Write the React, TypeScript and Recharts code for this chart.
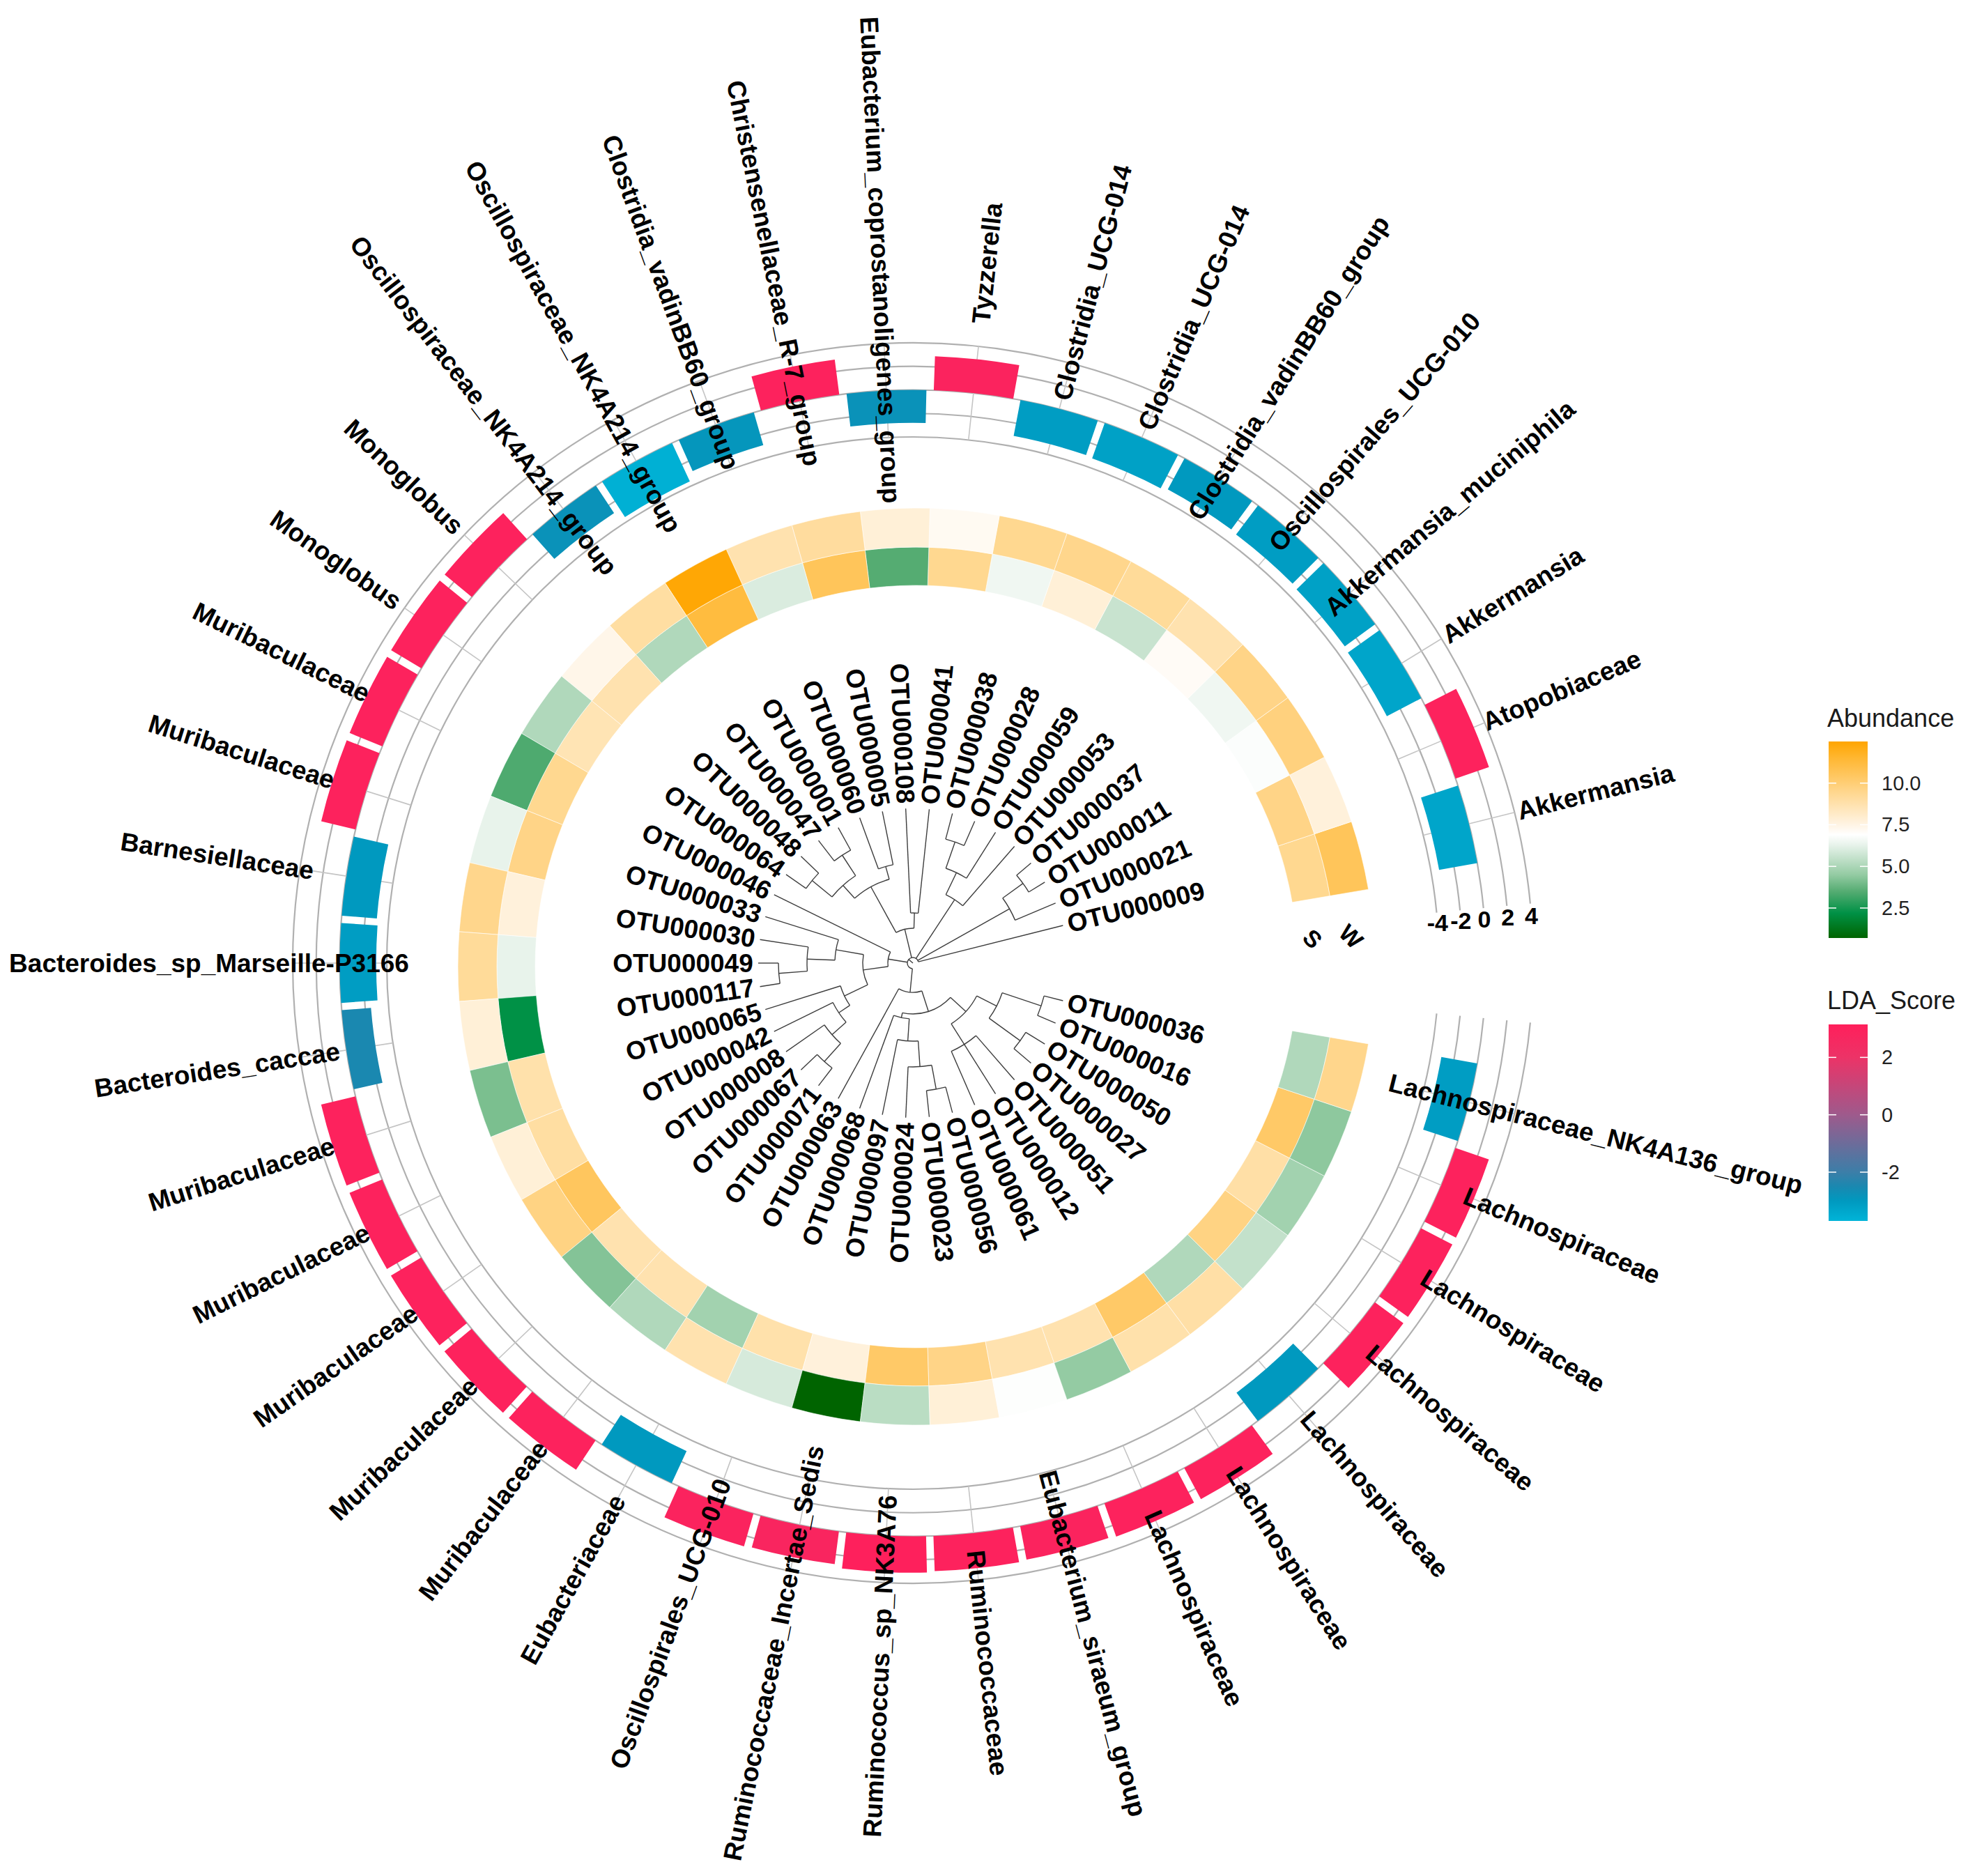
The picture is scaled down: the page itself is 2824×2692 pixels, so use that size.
import React from "react";
import {
  PieChart,
  Pie,
  Cell,
  RadialBarChart,
  RadialBar,
  PolarAngleAxis,
  PolarRadiusAxis,
  Customized,
} from "recharts";

const WIDTH = 2824;
const HEIGHT = 2692;
const CX = 1310;
const CY = 1382;
const START_ANGLE = 9.7;
const END_ANGLE = 350.3;
const FONT = "'Liberation Sans', Arial, sans-serif";

const otuIds = [
  "OTU000009", "OTU000021", "OTU000011", "OTU000037", "OTU000053", "OTU000059",
  "OTU000028", "OTU000038", "OTU000041", "OTU000108", "OTU000005", "OTU000060",
  "OTU000001", "OTU000047", "OTU000048", "OTU000064", "OTU000046", "OTU000033",
  "OTU000030", "OTU000049", "OTU000117", "OTU000065", "OTU000042", "OTU000008",
  "OTU000067", "OTU000071", "OTU000063", "OTU000068", "OTU000097", "OTU000024",
  "OTU000023", "OTU000056", "OTU000061", "OTU000012", "OTU000051", "OTU000027",
  "OTU000050", "OTU000016", "OTU000036",
]

const speciesNames = [
  "Akkermansia", "Atopobiaceae", "Akkermansia", "Akkermansia_muciniphila",
  "Oscillospirales_UCG-010", "Clostridia_vadinBB60_group", "Clostridia_UCG-014",
  "Clostridia_UCG-014", "Tyzzerella", "Eubacterium_coprostanoligenes_group",
  "Christensenellaceae_R-7_group", "Clostridia_vadinBB60_group",
  "Oscillospiraceae_NK4A214_group", "Oscillospiraceae_NK4A214_group", "Monoglobus",
  "Monoglobus", "Muribaculaceae", "Muribaculaceae", "Barnesiellaceae",
  "Bacteroides_sp_Marseille-P3166", "Bacteroides_caccae", "Muribaculaceae",
  "Muribaculaceae", "Muribaculaceae", "Muribaculaceae", "Muribaculaceae",
  "Eubacteriaceae", "Oscillospirales_UCG-010", "Ruminococcaceae_Incertae_Sedis",
  "Ruminococcus_sp_NK3A76", "Ruminococcaceae", "Eubacterium_siraeum_group",
  "Lachnospiraceae", "Lachnospiraceae", "Lachnospiraceae", "Lachnospiraceae",
  "Lachnospiraceae", "Lachnospiraceae", "Lachnospiraceae_NK4A136_group",
]

// abundance, inner ring (S) and outer ring (W)
const abundanceS = [
  9.4, 9.6, 6.8, 6.5, 7.1, 5.6, 7.8, 6.5, 9.4, 3.5, 10.6, 6.0, 11.2, 5.1, 8.7, 8.6,
  9.4, 9.6, 7.7, 6.3, 2.2, 8.8, 9.0, 10.5, 8.7, 8.7, 4.8, 8.8, 7.7, 10.3, 9.6, 8.7,
  8.7, 10.3, 5.1, 9.7, 8.9, 10.3, 5.1,
]
const abundanceW = [
  10.6, 7.7, 9.8, 9.6, 8.7, 9.2, 9.5, 9.4, 7.2, 7.8, 9.1, 8.7, 12.4, 9.0, 7.4, 5.1,
  3.4, 6.3, 9.5, 9.2, 7.8, 4.1, 7.8, 9.7, 4.25, 5.1, 8.7, 5.9, 0.7, 5.3, 7.8, 6.85,
  4.5, 8.8, 8.9, 5.5, 4.8, 4.4, 9.5,
]

const ldaScores = [
  -3.3, 3.0, -3.3, -3.2, -3.1, -3.0, -3.2, -3.1, 2.9, -2.8, 3.0, -2.9, -3.6, -2.8,
  3.0, 3.0, 3.0, 3.0, -3.0, -3.1, -2.5, 3.0, 3.0, 3.0, 3.0, 3.0, -3.0, 2.9, 2.8,
  3.1, 3.0, 2.9, 3.0, 3.0, -3.0, 3.0, 3.0, 3.0, -3.1,
]

const ldaTicks = [-4, -2, 0, 2, 4]
const abundanceLegendTicks = [10, 7.5, 5, 2.5]
const ldaLegendTicks = [2, 0, -2]

// colour ramps (value, colour), high to low
const abundanceStops: [number, string][] = [
  [12.5, "#FFA500"], [11.5, "#FFB732"], [10.5, "#FFC65E"], [9.5, "#FFD68C"],
  [8.5, "#FFE5B8"], [7.5, "#FFF4E4"], [6.9, "#FFFFFF"], [6.3, "#E8F3EB"],
  [5.5, "#C3E1CB"], [4.5, "#94CBA3"], [3.5, "#55AC72"], [2.2, "#009146"],
  [0.7, "#006400"],
]
const ldaStops: [number, string][] = [
  [3.15, "#FF1F5B"], [2.0, "#EC3367"], [0, "#9E5A8C"], [-2, "#3C7EA8"],
  [-2.5, "#1A88B0"], [-3.0, "#0099BF"], [-3.7, "#00B4D8"],
]

type TreeNode = number | { h: number; c: TreeNode[] }

// dendrogram: h is the node depth from the root (px), numbers are tip indexes
const treeRoot: TreeNode = {
  h: 8,
  c: [
    0,
    { h: 159, c: [1, { h: 195, c: [2, 3] }] },
    { h: 109, c: [4, { h: 144, c: [5, { h: 184, c: [6, 7] }] }] },
    {
      h: 50,
      c: [
        { h: 72, c: [8, 9] },
        {
          h: 125,
          c: [
            { h: 144, c: [10, 11] },
            { h: 150, c: [{ h: 185, c: [12, 13] }, { h: 187, c: [14, 15] }] },
          ],
        },
      ],
    },
    {
      h: 36,
      c: [
        16,
        {
          h: 72,
          c: [
            { h: 112, c: [17, { h: 152, c: [18, { h: 193, c: [19, 20] }] }] },
            { h: 109, c: [21, { h: 128, c: [22, { h: 155, c: [23, { h: 190, c: [24, 25] }] }] }] },
          ],
        },
      ],
    },
    {
      h: 42,
      c: [
        26,
        {
          h: 73,
          c: [
            { h: 80, c: [27, { h: 112, c: [28, { h: 149, c: [29, { h: 184, c: [30, 31] }] }] }] },
            {
              h: 103,
              c: [
                { h: 138, c: [32, 33, 34] },
                { h: 135, c: [{ h: 190, c: [35, 36] }, { h: 194, c: [37, 38] }] },
              ],
            },
          ],
        },
      ],
    },
  ],
}

const S_RING = [547, 602]
const W_RING = [602, 658]
const BAR_RING = [755, 890]
const TIP_R = 222
const OTU_LABEL_R = 330
const SPECIES_LABEL_R = 1010

const STEP = (END_ANGLE - START_ANGLE) / otuIds.length
const tipAngle = (i: number) => START_ANGLE + STEP * (i + 0.5)

function polar(r: number, deg: number): [number, number] {
  const t = (deg * Math.PI) / 180
  return [CX + r * Math.cos(t), CY - r * Math.sin(t)]
}

function arcPath(r: number, a0: number, a1: number) {
  const [x0, y0] = polar(r, a0)
  const [x1, y1] = polar(r, a1)
  const large = a1 - a0 > 180 ? 1 : 0
  return `M${x0},${y0} A${r},${r} 0 ${large} 0 ${x1},${y1}`
}

const barRadius = (v: number) =>
  BAR_RING[0] + ((v - ldaTicks[0]) / (ldaTicks[ldaTicks.length - 1] - ldaTicks[0])) * (BAR_RING[1] - BAR_RING[0])

function hexToRgb(h: string) {
  const n = parseInt(h.slice(1), 16)
  return [(n >> 16) & 255, (n >> 8) & 255, n & 255]
}

function rampColor(stops: [number, string][], v: number) {
  if (v >= stops[0][0]) return stops[0][1]
  for (let k = 0; k < stops.length - 1; k++) {
    const [v0, c0] = stops[k]
    const [v1, c1] = stops[k + 1]
    if (v <= v0 && v >= v1) {
      const t = (v0 - v) / (v0 - v1)
      const a = hexToRgb(c0)
      const b = hexToRgb(c1)
      const m = a.map((x, j) => Math.round(x + (b[j] - x) * t))
      return `rgb(${m[0]},${m[1]},${m[2]})`
    }
  }
  return stops[stops.length - 1][1]
}

const heatData = otuIds.map((otu, i) => ({ otu, one: 1, s: abundanceS[i], w: abundanceW[i] }))
// bars run from 0 to the score, so negative scores are given as [score, 0]
const ldaData = otuIds.map((otu, i) => ({
  otu,
  lda: ldaScores[i],
  span: [Math.min(0, ldaScores[i]), Math.max(0, ldaScores[i])],
}))

// the band scale of a polar angle axis starts one band early, so shift its range by one step
const BAR_START = START_ANGLE + STEP
const BAR_END = END_ANGLE + STEP

function radialText(text: string, r: number, a: number, key: string, size = 37) {
  const [x, y] = polar(r, a)
  const flip = a > 90 && a < 270
  const rot = flip ? 180 - a : -a
  return (
    <text
      key={key}
      x={x}
      y={y}
      transform={`rotate(${rot} ${x} ${y})`}
      textAnchor="middle"
      dominantBaseline="central"
      fontSize={size}
      fontWeight={700}
      fontFamily={FONT}
      fill="#000"
    >
      {text}
    </text>
  )
}

const GridLayer = () => (
  <g>
    {ldaTicks.map((v) => (
      <path key={`c${v}`} d={arcPath(barRadius(v), 5.5, 354.5)} fill="none" stroke="#b0b0b0" strokeWidth={2.2} />
    ))}
    {otuIds.map((id, i) => {
      const [x0, y0] = polar(BAR_RING[0], tipAngle(i))
      const [x1, y1] = polar(BAR_RING[1], tipAngle(i))
      return <line key={id} x1={x0} y1={y0} x2={x1} y2={y1} stroke="#c4c4c4" strokeWidth={1.6} />
    })}
  </g>
)

function buildTree(node: TreeNode, parentH: number, out: React.ReactNode[]): number {
  if (typeof node === "number") {
    const a = tipAngle(node)
    const [x0, y0] = polar(parentH, a)
    const [x1, y1] = polar(TIP_R, a)
    out.push(<line key={`t${node}`} x1={x0} y1={y0} x2={x1} y2={y1} stroke="#3d3d3d" strokeWidth={1.4} />)
    return a
  }
  const angles = node.c.map((ch) => buildTree(ch, node.h, out))
  const a0 = Math.min(...angles)
  const a1 = Math.max(...angles)
  out.push(<path key={`a${out.length}`} d={arcPath(node.h, a0, a1)} fill="none" stroke="#3d3d3d" strokeWidth={1.4} />)
  const a = (a0 + a1) / 2
  if (parentH < node.h) {
    const [x0, y0] = polar(parentH, a)
    const [x1, y1] = polar(node.h, a)
    out.push(<line key={`b${out.length}`} x1={x0} y1={y0} x2={x1} y2={y1} stroke="#3d3d3d" strokeWidth={1.4} />)
  }
  return a
}

const TreeLayer = () => {
  const out: React.ReactNode[] = []
  buildTree(treeRoot, 0, out)
  return <g>{out}</g>
}

const AxisText = () => (
  <g fontFamily={FONT} fontWeight={700}>
    {ldaTicks.map((v) => {
      const [x, y] = polar(barRadius(v), 4.4)
      return (
        <text key={v} x={x} y={y} textAnchor="middle" dominantBaseline="central" fontSize={34} fill="#000">
          {v}
        </text>
      )
    })}
    {[["S", (S_RING[0] + S_RING[1]) / 2], ["W", (W_RING[0] + W_RING[1]) / 2]].map(([t, r]) => {
      const [x, y] = polar(r as number, 3.5)
      return (
        <text
          key={t as string}
          x={x}
          y={y}
          transform={`rotate(45 ${x} ${y})`}
          textAnchor="middle"
          dominantBaseline="central"
          fontSize={34}
          fill="#000"
        >
          {t}
        </text>
      )
    })}
  </g>
)

function ColorBar({ id, title, stops, ticks, top, titleY, fmt }: {
  id: string
  title: string
  stops: [number, string][]
  ticks: number[]
  top: number
  titleY: number
  fmt: (v: number) => string
}) {
  const x = 2624
  const w = 56
  const h = 282
  const hi = stops[0][0]
  const lo = stops[stops.length - 1][0]
  const yOf = (v: number) => top + ((hi - v) / (hi - lo)) * h
  return (
    <g fontFamily={FONT}>
      <defs>
        <linearGradient id={id} x1="0" y1="0" x2="0" y2="1">
          {stops.map(([v, c]) => (
            <stop key={v} offset={(hi - v) / (hi - lo)} stopColor={c} />
          ))}
        </linearGradient>
      </defs>
      <text x={x - 2} y={titleY} fontSize={36} fill="#1a1a1a">
        {title}
      </text>
      <rect x={x} y={top} width={w} height={h} fill={`url(#${id})`} />
      {ticks.map((v) => (
        <g key={v}>
          <line x1={x} x2={x + 11} y1={yOf(v)} y2={yOf(v)} stroke="#fff" strokeWidth={1.5} />
          <line x1={x + w - 11} x2={x + w} y1={yOf(v)} y2={yOf(v)} stroke="#fff" strokeWidth={1.5} />
          <text x={x + 76} y={yOf(v)} dominantBaseline="central" fontSize={29} fill="#222">
            {fmt(v)}
          </text>
        </g>
      ))}
    </g>
  )
}

const Legends = () => (
  <g>
    <ColorBar
      id="abGrad"
      title="Abundance"
      stops={abundanceStops}
      ticks={abundanceLegendTicks}
      top={1064}
      titleY={1043}
      fmt={(v) => v.toFixed(1)}
    />
    <ColorBar
      id="ldaGrad"
      title="LDA_Score"
      stops={ldaStops}
      ticks={ldaLegendTicks}
      top={1470}
      titleY={1448}
      fmt={(v) => String(v)}
    />
  </g>
)

const LabelTick = (props: any) => {
  const value = props?.payload?.value
  const i = otuIds.indexOf(value)
  if (i < 0) return null
  const a = tipAngle(i)
  return (
    <g>
      {radialText(otuIds[i], OTU_LABEL_R, a, "o")}
      {radialText(speciesNames[i], SPECIES_LABEL_R, a, "s")}
    </g>
  )
}

const layer: React.CSSProperties = { position: "absolute", left: 0, top: 0 }

export default function App() {
  return (
    <div style={{ position: "absolute", left: 0, top: 0, width: WIDTH, height: HEIGHT, background: "#fff" }}>
      <div style={layer}>
        <PieChart width={WIDTH} height={HEIGHT}>
          <Customized component={GridLayer} />
          <Pie
            data={heatData}
            dataKey="one"
            cx={CX}
            cy={CY}
            innerRadius={S_RING[0]}
            outerRadius={S_RING[1]}
            startAngle={START_ANGLE}
            endAngle={END_ANGLE}
            stroke="#ffffff"
            strokeWidth={0.6}
            isAnimationActive={false}
          >
            {heatData.map((d) => (
              <Cell key={d.otu} fill={rampColor(abundanceStops, d.s)} />
            ))}
          </Pie>
          <Pie
            data={heatData}
            dataKey="one"
            cx={CX}
            cy={CY}
            innerRadius={W_RING[0]}
            outerRadius={W_RING[1]}
            startAngle={START_ANGLE}
            endAngle={END_ANGLE}
            stroke="#ffffff"
            strokeWidth={0.6}
            isAnimationActive={false}
          >
            {heatData.map((d) => (
              <Cell key={d.otu} fill={rampColor(abundanceStops, d.w)} />
            ))}
          </Pie>
        </PieChart>
      </div>
      <div style={layer}>
        <RadialBarChart
          width={WIDTH}
          height={HEIGHT}
          data={ldaData}
          cx={CX}
          cy={CY}
          innerRadius={BAR_RING[0]}
          outerRadius={BAR_RING[1]}
          startAngle={BAR_START}
          endAngle={BAR_END}
          layout="centric"
          barCategoryGap="4%"
        >
          <PolarAngleAxis type="category" dataKey="otu" tick={false} axisLine={false} tickLine={false} />
          <PolarRadiusAxis type="number" domain={[ldaTicks[0], ldaTicks[4]]} tick={false} axisLine={false} />
          <RadialBar dataKey="span" isAnimationActive={false}>
            {ldaData.map((d) => (
              <Cell key={d.otu} fill={rampColor(ldaStops, d.lda)} />
            ))}
          </RadialBar>
        </RadialBarChart>
      </div>
      <div style={layer}>
        <RadialBarChart
          width={WIDTH}
          height={HEIGHT}
          data={ldaData}
          cx={CX}
          cy={CY}
          innerRadius={BAR_RING[0]}
          outerRadius={BAR_RING[1]}
          startAngle={BAR_START}
          endAngle={BAR_END}
          layout="centric"
        >
          <PolarAngleAxis type="category" dataKey="otu" tick={<LabelTick />} axisLine={false} tickLine={false} />
          <PolarRadiusAxis type="number" domain={[ldaTicks[0], ldaTicks[4]]} tick={false} axisLine={false} />
          <RadialBar dataKey="lda" fillOpacity={0} isAnimationActive={false} />
          <Customized component={TreeLayer} />
          <Customized component={AxisText} />
          <Customized component={Legends} />
        </RadialBarChart>
      </div>
    </div>
  )
}
